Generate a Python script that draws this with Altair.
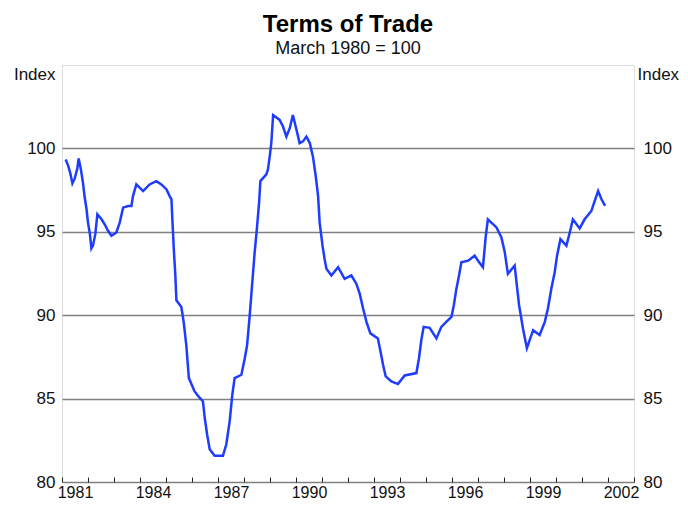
import json
import altair as alt
import pandas as pd

# Decimal-year dates and index values
dates = [
    1981.14, 1981.23, 1981.32, 1981.40, 1981.49, 1981.59, 1981.64, 1981.72, 1981.81, 1981.87,
    1981.94, 1982.00, 1982.07, 1982.13, 1982.19, 1982.28, 1982.36, 1982.52, 1982.64, 1982.77,
    1982.90, 1983.09, 1983.22, 1983.35, 1983.54, 1983.67, 1983.73, 1983.86, 1984.12, 1984.37,
    1984.63, 1984.82, 1985.02, 1985.14, 1985.21, 1985.25, 1985.30, 1985.36, 1985.40, 1985.59,
    1985.68, 1985.78, 1985.88, 1986.10, 1986.30, 1986.42, 1986.49, 1986.58, 1986.68, 1986.87,
    1987.19, 1987.32, 1987.45, 1987.55, 1987.64, 1987.90, 1988.03, 1988.12, 1988.22, 1988.32,
    1988.41, 1988.50, 1988.58, 1988.63, 1988.86, 1988.92, 1988.99, 1989.05, 1989.12, 1989.37,
    1989.50, 1989.63, 1989.76, 1989.88, 1990.02, 1990.14, 1990.27, 1990.40, 1990.53, 1990.65,
    1990.76, 1990.85, 1990.91, 1991.02, 1991.10, 1991.17, 1991.36, 1991.62, 1991.87, 1992.13,
    1992.32, 1992.45, 1992.58, 1992.71, 1992.86, 1993.15, 1993.25, 1993.35, 1993.45, 1993.67,
    1993.92, 1994.18, 1994.63, 1994.73, 1994.82, 1994.91, 1995.14, 1995.40, 1995.59, 1995.78,
    1995.98, 1996.07, 1996.17, 1996.27, 1996.36, 1996.62, 1996.87, 1997.00, 1997.19, 1997.30,
    1997.38, 1997.71, 1997.90, 1998.03, 1998.15, 1998.41, 1998.48, 1998.58, 1998.73, 1998.88,
    1999.12, 1999.37, 1999.57, 1999.69, 1999.82, 1999.95, 2000.04, 2000.17, 2000.40, 2000.53,
    2000.65, 2000.91, 2001.10, 2001.36, 2001.49, 2001.62, 2001.75, 2001.89,
]
values = [
    99.33, 99.0, 98.5, 97.9, 98.2, 98.8, 99.4, 98.8, 97.9, 97.1,
    96.4, 95.55, 94.9, 94.0, 94.17, 94.86, 96.05, 95.75, 95.45, 95.06,
    94.76, 94.96, 95.55, 96.45, 96.55, 96.55, 97.14, 97.84, 97.44, 97.84,
    98.04, 97.84, 97.54, 97.14, 96.95, 95.55, 93.97, 92.38, 90.89, 90.49,
    89.6, 88.21, 86.23, 85.43, 85.04, 84.84, 83.85, 82.86, 81.96, 81.57,
    81.57, 82.26, 83.65, 85.24, 86.23, 86.43, 87.42, 88.21, 90.0, 91.98,
    93.77, 95.26, 96.74, 98.04, 98.44, 98.73, 99.52, 100.32, 102.0, 101.71,
    101.31, 100.71, 101.21, 102.0, 101.11, 100.32, 100.42, 100.71, 100.32, 99.52,
    98.33, 97.14, 95.55, 94.17, 93.37, 92.78, 92.38, 92.88, 92.18, 92.38,
    91.89, 91.29, 90.4, 89.6, 88.91, 88.61, 87.82, 87.02, 86.33, 86.03,
    85.87, 86.39, 86.53, 87.42, 88.51, 89.3, 89.24, 88.61, 89.3, 89.6,
    89.9, 90.6, 91.59, 92.38, 93.17, 93.27, 93.57, 93.27, 92.88, 94.76,
    95.75, 95.26, 94.66, 93.77, 92.48, 92.98, 91.98, 90.6, 89.2, 88.02,
    89.1, 88.81, 89.6, 90.4, 91.59, 92.58, 93.57, 94.56, 94.17, 94.96,
    95.75, 95.2, 95.75, 96.25, 96.85, 97.44, 96.95, 96.55,
]
tick_years = list(range(1981, 2004))
label_years = [1981, 1984, 1987, 1990, 1993, 1996, 1999, 2002]
y_ticks = [80, 85, 90, 95, 100]

df = pd.DataFrame({"date": dates, "value": values})

FONT = "Liberation Sans"
label_expr = (
    "indexof(" + json.dumps(label_years) + ", datum.value) >= 0 ? format(datum.value, 'd') : ''"
)

x_enc = alt.X(
    "date:Q",
    scale=alt.Scale(domain=[1981, 2003], nice=False, zero=False),
    axis=alt.Axis(
        values=tick_years,
        labelExpr=label_expr,
        labelOffset=13,
        tickSize=5,
        offset=-5,
        tickColor="#222222",
        tickWidth=1,
        domain=False,
        grid=False,
        title=None,
        labelPadding=2,
        labelFontSize=16,
        labelFont=FONT,
        labelColor="#111111",
        labelFlush=False,
        labelOverlap=False,
        labelBound=False,
    ),
)

y_scale = alt.Scale(domain=[80, 105], nice=False, zero=False)

line_left = alt.Chart(df).mark_line(color="#1E3CFF", strokeWidth=2.5).encode(
    x=x_enc,
    y=alt.Y(
        "value:Q",
        scale=y_scale,
        axis=alt.Axis(
            orient="left",
            values=y_ticks,
            grid=True,
            gridColor="#808080",
            gridWidth=1.5,
            ticks=False,
            domain=False,
            labelPadding=7,
            labelFontSize=17,
            labelFont=FONT,
            labelColor="#111111",
            title="Index",
            titleAngle=0,
            titleAlign="right",
            titleBaseline="alphabetic",
            titleX=-7,
            titleY=14,
            titleFont=FONT,
            titleFontSize=17,
            titleFontWeight="normal",
            titleColor="#111111",
        ),
    ),
)

line_right = alt.Chart(df).mark_line(strokeOpacity=0).encode(
    x=x_enc,
    y=alt.Y(
        "value:Q",
        scale=y_scale,
        axis=alt.Axis(
            orient="right",
            values=y_ticks,
            grid=False,
            ticks=False,
            domain=False,
            labelPadding=9,
            labelFontSize=17,
            labelFont=FONT,
            labelColor="#111111",
            title="Index",
            titleAngle=0,
            titleAlign="left",
            titleBaseline="alphabetic",
            titleX=3,
            titleY=14,
            titleFont=FONT,
            titleFontSize=17,
            titleFontWeight="normal",
            titleColor="#111111",
        ),
    ),
)

chart = (
    alt.layer(line_right, line_left)
    .resolve_axis(y="independent")
    .properties(
        width=572,
        height=417,
        title=alt.TitleParams(
            text="Terms of Trade",
            subtitle="March 1980 = 100",
            anchor="middle",
            font=FONT,
            fontSize=24,
            fontWeight="bold",
            color="#000000",
            subtitleFont=FONT,
            subtitleFontSize=18,
            subtitleColor="#111111",
            subtitlePadding=3,
            offset=7,
        ),
        autosize=alt.AutoSizeParams(type="none"),
        padding={"left": 54, "top": 57, "right": 46, "bottom": 22},
    )
    .configure_view(stroke="#333333", strokeWidth=1.5)
    .configure(background="white")
)

chart.save("out.html", embed_options={"renderer": "svg", "actions": False})
